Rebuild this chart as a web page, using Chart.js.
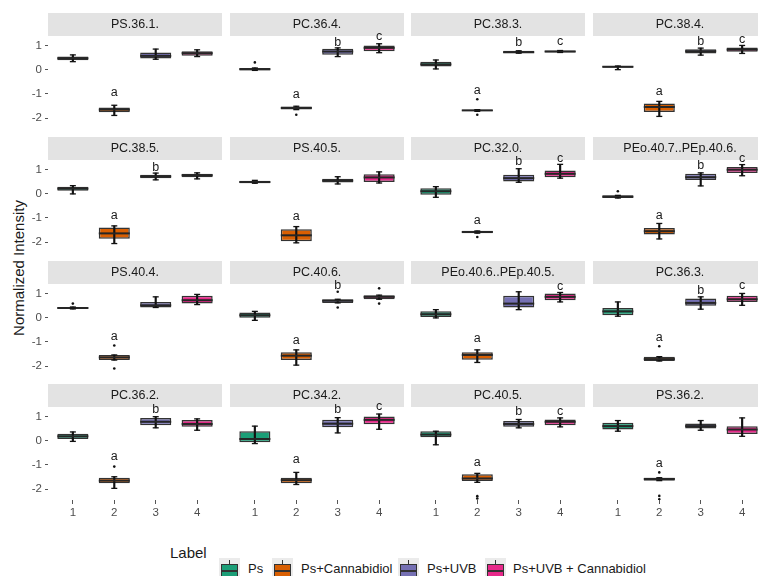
<!DOCTYPE html>
<html>
<head>
<meta charset="utf-8">
<script src="https://cdn.jsdelivr.net/npm/chart.js@4.4.1/dist/chart.umd.min.js"></script>
<style>
  html, body { margin: 0; padding: 0; background: #fff; }
  #wrap { position: relative; width: 758px; height: 576px; overflow: hidden; font-family: "Liberation Sans", Arial, sans-serif; }
  #wrap canvas { position: absolute; }
  .ytitle { position: absolute; left: 18px; top: 268px; transform: translate(-50%, -50%) rotate(-90deg); font-size: 15px; color: #1a1a1a; white-space: nowrap; }
  .legtitle { position: absolute; left: 170px; top: 544px; font-size: 15px; line-height: 18px; color: #1a1a1a; }
  .key { position: absolute; top: 558px; width: 21px; height: 24px; background: #ebebeb; }
  .key .wh { position: absolute; left: 10px; top: 2px; width: 1.2px; height: 4px; background: #333; }
  .key .bx { position: absolute; left: 2px; top: 6px; width: 14.6px; height: 11px; border: 1.2px solid #333; }
  .key .md { position: absolute; left: 2px; top: 12px; width: 17px; height: 1.5px; background: #333; }
  .ltxt { position: absolute; top: 560px; font-size: 13px; line-height: 18px; color: #1a1a1a; white-space: nowrap; }
</style>
</head>
<body>
<div id="wrap">
  <div class="ytitle">Normalized Intensity</div>
  <div class="legtitle">Label</div>
</div>
<script>
// facets, in reading order
const panelNames = [
  'PS.36.1.', 'PC.36.4.', 'PC.38.3.', 'PC.38.4.',
  'PC.38.5.', 'PS.40.5.', 'PC.32.0.', 'PEo.40.7..PEp.40.6.',
  'PS.40.4.', 'PC.40.6.', 'PEo.40.6..PEp.40.5.', 'PC.36.3.',
  'PC.36.2.', 'PC.34.2.', 'PC.40.5.', 'PS.36.2.'
];
const groupIds = [1, 2, 3, 4];
const groupNames = ['Ps', 'Ps+Cannabidiol', 'Ps+UVB', 'Ps+UVB + Cannabidiol'];
const groupColors = ['#1B9E77', '#D95F02', '#7570B3', '#E7298A'];
const yTicks = [1, 0, -1, -2];

// box stats per facet, one value per group
const whiskerLow = [
  [0.33, -1.89, 0.43, 0.54], [-0.03, -1.65, 0.54, 0.70], [0.03, -1.72, 0.68, 0.71], [0.00, -1.93, 0.60, 0.67],
  [-0.01, -2.06, 0.57, 0.61], [0.43, -2.03, 0.40, 0.44], [-0.15, -1.63, 0.47, 0.64], [-0.18, -1.87, 0.32, 0.74],
  [0.36, -1.75, 0.42, 0.54], [-0.11, -1.96, 0.61, 0.76], [-0.01, -1.85, 0.33, 0.65], [0.06, -1.79, 0.35, 0.51],
  [-0.03, -1.97, 0.53, 0.43], [-0.12, -1.81, 0.32, 0.47], [-0.17, -1.72, 0.53, 0.57], [0.39, -1.65, 0.43, 0.18]
];
const q1 = [
  [0.39, -1.76, 0.46, 0.57], [-0.03, -1.64, 0.62, 0.76], [0.13, -1.72, 0.68, 0.71], [0.08, -1.75, 0.67, 0.74],
  [0.125, -1.86, 0.64, 0.68], [0.43, -1.96, 0.46, 0.48], [-0.04, -1.63, 0.50, 0.68], [-0.18, -1.69, 0.56, 0.85],
  [0.36, -1.75, 0.42, 0.58], [0.00, -1.75, 0.61, 0.76], [0.03, -1.74, 0.42, 0.72], [0.10, -1.79, 0.49, 0.65],
  [0.07, -1.76, 0.64, 0.57], [-0.07, -1.76, 0.55, 0.68], [0.14, -1.67, 0.57, 0.64], [0.46, -1.65, 0.50, 0.28]
];
const median = [
  [0.47, -1.65, 0.57, 0.68], [0.02, -1.58, 0.75, 0.90], [0.22, -1.68, 0.72, 0.75], [0.12, -1.54, 0.76, 0.83],
  [0.21, -1.64, 0.71, 0.76], [0.48, -1.72, 0.54, 0.67], [0.10, -1.58, 0.64, 0.82], [-0.125, -1.55, 0.68, 0.99],
  [0.40, -1.64, 0.51, 0.72], [0.10, -1.57, 0.70, 0.86], [0.14, -1.54, 0.58, 0.86], [0.26, -1.71, 0.61, 0.76],
  [0.18, -1.65, 0.78, 0.69], [0.07, -1.63, 0.70, 0.86], [0.25, -1.56, 0.69, 0.78], [0.60, -1.58, 0.60, 0.46]
];
const q3 = [
  [0.54, -1.56, 0.71, 0.76], [0.07, -1.52, 0.86, 1.00], [0.33, -1.65, 0.78, 0.79], [0.15, -1.40, 0.84, 0.92],
  [0.29, -1.40, 0.78, 0.82], [0.53, -1.47, 0.62, 0.80], [0.22, -1.54, 0.78, 0.96], [-0.07, -1.42, 0.82, 1.10],
  [0.44, -1.54, 0.65, 0.90], [0.21, -1.43, 0.76, 0.93], [0.26, -1.43, 0.90, 1.00], [0.40, -1.61, 0.79, 0.90],
  [0.29, -1.53, 0.94, 0.85], [0.39, -1.53, 0.86, 1.00], [0.39, -1.39, 0.81, 0.875], [0.74, -1.53, 0.71, 0.60]
];
const whiskerHigh = [
  [0.61, -1.47, 0.85, 0.82], [0.07, -1.51, 0.90, 1.07], [0.40, -1.65, 0.78, 0.79], [0.15, -1.31, 0.89, 1.00],
  [0.33, -1.33, 0.85, 0.86], [0.55, -1.36, 0.70, 0.90], [0.29, -1.54, 1.03, 1.21], [-0.07, -1.23, 0.86, 1.20],
  [0.44, -1.54, 0.86, 0.96], [0.26, -1.33, 0.76, 0.93], [0.33, -1.33, 1.07, 1.04], [0.65, -1.61, 0.86, 1.00],
  [0.36, -1.49, 0.99, 0.90], [0.60, -1.31, 0.95, 1.10], [0.39, -1.35, 0.875, 0.94], [0.83, -1.53, 0.83, 0.94]
];
const outliers = [
  [[], [], [], []], [[0.30], [-1.86], [], []], [[], [-1.22, -1.86], [], []], [[], [], [], []],
  [[], [], [], []], [[], [], [], []], [[], [-1.79], [], []], [[0.10], [], [], []],
  [[0.58], [-1.15, -2.10], [], []], [[], [], [1.07, 0.42], [1.21, 0.58]], [[], [], [], []], [[], [-1.18], [], []],
  [[], [-1.07], [], []], [[], [], [], []], [[], [-2.29, -2.39], [], []], [[], [-1.31, -2.28, -2.42], [], []]
];
// significance letters and their heights
const letters = [
  ['', 'a', '', ''], ['', 'a', 'b', 'c'], ['', 'a', 'b', 'c'], ['', 'a', 'b', 'c'],
  ['', 'a', 'b', ''], ['', 'a', '', ''], ['', 'a', 'b', 'c'], ['', 'a', 'b', 'c'],
  ['', 'a', '', ''], ['', 'a', 'b', ''], ['', 'a', '', 'c'], ['', 'a', 'b', 'c'],
  ['', 'a', 'b', ''], ['', 'a', 'b', 'c'], ['', 'a', 'b', 'c'], ['', 'a', '', '']
];
const letterY = [
  [null, -0.96, null, null], [null, -1.03, 1.14, 1.36], [null, -0.85, 1.12, 1.17], [null, -0.92, 1.18, 1.25],
  [null, -0.92, 1.06, null], [null, -0.94, null, null], [null, -1.12, 1.31, 1.46], [null, -0.89, 1.18, 1.44],
  [null, -0.76, null, null], [null, -0.94, 1.32, null], [null, -0.85, null, 1.28], [null, -0.81, 1.14, 1.32],
  [null, -0.65, 1.29, null], [null, -0.79, 1.30, 1.42], [null, -0.89, 1.19, 1.22], [null, -0.93, null, null]
];

// layout
const colX = [48, 230, 411, 593];
const rowY = [13, 137, 261, 384];
const panelW = 174, stripH = 23, plotH = 93, yAxisW = 48, xAxisH = 24;
const keyLeft = [219, 272, 398, 485];
const textLeft = [248, 301, 427, 513];

const FONT = '"Liberation Sans", Arial, sans-serif';
Chart.defaults.font.family = FONT;

const wrap = document.getElementById('wrap');

function makePanel(p) {
  const row = Math.floor(p / 4), col = p % 4;
  const hasY = col === 0, hasX = row === 3;
  const canvas = document.createElement('canvas');
  canvas.width = panelW + (hasY ? yAxisW : 0);
  canvas.height = stripH + plotH + (hasX ? xAxisH : 0);
  canvas.style.left = (colX[col] - (hasY ? yAxisW : 0)) + 'px';
  canvas.style.top = rowY[row] + 'px';
  wrap.appendChild(canvas);

  const caps = [];
  groupIds.forEach((g, i) => {
    caps.push({ x: g, y: whiskerLow[p][i] }, { x: g, y: whiskerHigh[p][i] });
  });
  const outPts = outliers[p].flatMap((vals, i) => vals.map(v => ({ x: groupIds[i], y: v })));

  new Chart(canvas, {
    type: 'bar',
    data: {
      datasets: [
        {
          type: 'bar',
          data: groupIds.map((g, i) => ({ x: g, y: [q1[p][i], q3[p][i]] })),
          backgroundColor: groupColors,
          borderColor: '#333333',
          borderWidth: 1.5,
          borderSkipped: false,
          grouped: false,
          categoryPercentage: 1,
          barPercentage: 0.75,
          order: 4
        },
        {
          type: 'bar',
          data: groupIds.map((g, i) => ({ x: g, y: [whiskerLow[p][i], whiskerHigh[p][i]] })),
          backgroundColor: '#111111',
          borderWidth: 0,
          grouped: false,
          categoryPercentage: 1,
          barPercentage: 1,
          maxBarThickness: 1.5,
          order: 3
        },
        {
          type: 'line',
          data: groupIds.map((g, i) => ({ x: g, y: median[p][i] })),
          showLine: false,
          pointStyle: 'line',
          pointRadius: 15.5,
          pointBorderWidth: 2,
          pointBorderColor: '#262626',
          order: 2
        },
        {
          type: 'line',
          data: caps,
          showLine: false,
          pointStyle: 'line',
          pointRadius: 3,
          pointBorderWidth: 1.3,
          pointBorderColor: '#111111',
          order: 1
        },
        {
          type: 'line',
          data: outPts,
          showLine: false,
          pointStyle: 'circle',
          pointRadius: 1.3,
          pointBorderWidth: 0,
          pointBackgroundColor: '#111111',
          order: 0
        }
      ]
    },
    options: {
      responsive: false,
      animation: false,
      devicePixelRatio: 1,
      events: [],
      layout: { padding: 0, autoPadding: false },
      scales: {
        x: {
          type: 'linear',
          min: 0.4,
          max: 4.6,
          offset: false,
          display: hasX,
          afterBuildTicks: s => { s.ticks = groupIds.map(v => ({ value: v })); },
          afterFit: s => { s.height = hasX ? xAxisH : 0; s.paddingLeft = 0; s.paddingRight = 0; },
          ticks: { color: '#4d4d4d', font: { size: 11.5 }, padding: 2, autoSkip: false, maxRotation: 0, callback: v => String(v) },
          grid: { offset: false, drawOnChartArea: false, drawTicks: true, tickLength: 4, color: '#555555' },
          border: { display: false }
        },
        y: {
          type: 'linear',
          min: -2.45,
          max: 1.39,
          display: hasY,
          afterBuildTicks: s => { s.ticks = yTicks.map(v => ({ value: v })); },
          afterFit: s => { s.width = hasY ? yAxisW : 0; s.paddingTop = 0; s.paddingBottom = 0; },
          ticks: { color: '#4d4d4d', font: { size: 11.5 }, padding: 3 },
          grid: { drawOnChartArea: false, drawTicks: true, tickLength: 3, color: '#555555' },
          border: { display: false }
        }
      },
      plugins: {
        legend: { display: false },
        tooltip: { enabled: false },
        title: {
          display: true,
          text: panelNames[p],
          fullSize: false,
          color: '#1a1a1a',
          font: { size: 12.5, weight: 'normal' },
          padding: { top: 4, bottom: 4 }
        }
      }
    },
    plugins: [
      {
        id: 'strip',
        beforeDraw(chart) {
          const t = chart.titleBlock;
          const ctx = chart.ctx;
          ctx.save();
          ctx.fillStyle = '#e3e3e3';
          ctx.fillRect(t.left, t.top, t.width, t.height);
          ctx.restore();
        }
      },
      {
        id: 'letters',
        afterDatasetsDraw(chart) {
          const { x, y } = chart.scales;
          const ctx = chart.ctx;
          ctx.save();
          ctx.font = '12.5px ' + FONT;
          ctx.fillStyle = '#1a1a1a';
          ctx.textAlign = 'center';
          ctx.textBaseline = 'middle';
          letters[p].forEach((l, i) => {
            if (!l) return;
            ctx.fillText(l, x.getPixelForValue(groupIds[i]), y.getPixelForValue(letterY[p][i]));
          });
          ctx.restore();
        }
      }
    ]
  });
}

panelNames.forEach((_, p) => makePanel(p));

// legend
groupNames.forEach((name, i) => {
  const key = document.createElement('div');
  key.className = 'key';
  key.style.left = keyLeft[i] + 'px';
  key.innerHTML = '<div class="wh"></div><div class="bx" style="background:' + groupColors[i] + '"></div><div class="md"></div>';
  wrap.appendChild(key);
  const txt = document.createElement('div');
  txt.className = 'ltxt';
  txt.style.left = textLeft[i] + 'px';
  txt.textContent = name;
  wrap.appendChild(txt);
});
</script>
</body>
</html>
